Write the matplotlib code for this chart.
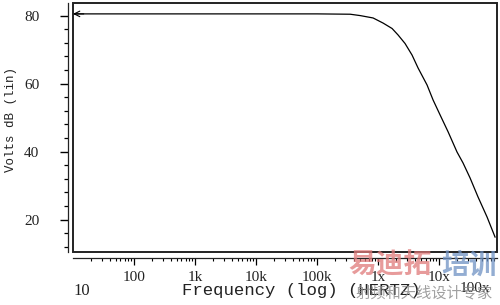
import matplotlib
matplotlib.use("Agg")
import matplotlib.pyplot as plt
import matplotlib.ticker as ticker
from matplotlib.patches import Rectangle
import numpy as np

# response curve
freq = [10, 1e5, 3.5e5, 5.1e5, 8.3e5, 1.21e6, 1.7e6, 2.13e6, 2.77e6, 3.61e6, 4.53e6,
        6.36e6, 7.98e6, 1.04e7, 1.41e7, 1.97e7, 2.47e7, 3.22e7, 4.35e7, 6.12e7, 8.28e7]
volts_db = [80.5, 80.5, 80.4, 80.0, 79.3, 77.8, 76.2, 74.3, 71.8, 68.4, 64.6,
            59.6, 55.2, 50.8, 45.8, 39.9, 36.7, 32.3, 26.7, 20.8, 14.9]

x_ticks = [100, 1e3, 1e4, 1e5, 1e6, 1e7]
x_tick_labels = ["100", "1k", "10k", "100k", "1x", "10x"]
y_ticks = [20, 40, 60, 80]

SERIF = "Liberation Serif"
MONO = "Liberation Mono"

fig = plt.figure(figsize=(5, 3.05), dpi=100)
ax = fig.add_axes([73 / 500, 53 / 305, 424 / 500, 249 / 305])

ax.plot(freq, volts_db, color="black", linewidth=0.9)
# open arrow head at the left end of the trace
ax.annotate("", xy=(freq[0], volts_db[0]), xytext=(freq[0] * 1.5, volts_db[0]),
            arrowprops=dict(arrowstyle="->", color="black", lw=0.8, mutation_scale=10,
                            shrinkA=0, shrinkB=0))

ax.set_xscale("log")
ax.set_xlim(10, 10 ** 7.95)
ax.set_ylim(10.5, 83.7)

# plot frame, the tick axes sit a few pixels outside it
ax.add_patch(Rectangle((0, 0), 1, 1, transform=ax.transAxes, fill=False,
                       edgecolor="#222222", linewidth=1.4, clip_on=False, zorder=5))
ax.spines["top"].set_visible(False)
ax.spines["right"].set_visible(False)
ax.spines["left"].set_position(("outward", 3.8))
ax.spines["bottom"].set_position(("outward", 4.5))
for s in ["left", "bottom"]:
    ax.spines[s].set_linewidth(0.9)
    ax.spines[s].set_color("#222222")

ax.set_xticks(x_ticks)
ax.set_xticklabels(x_tick_labels, fontfamily=SERIF, fontsize=11, color="#222222")
ax.xaxis.set_minor_locator(ticker.LogLocator(base=10, subs=np.arange(2, 10), numticks=20))
ax.xaxis.set_minor_formatter(ticker.NullFormatter())
ax.tick_params(axis="x", which="major", direction="out", length=5, width=0.9, pad=4)
ax.tick_params(axis="x", which="minor", direction="out", length=2, width=0.8)

ax.set_yticks(y_ticks)
ax.set_yticklabels([str(v) for v in y_ticks], fontfamily=SERIF, fontsize=11, color="#222222")
ax.yaxis.set_minor_locator(ticker.MultipleLocator(4))
ax.tick_params(axis="y", which="major", direction="out", length=5.5, width=1.0, pad=15)
ax.tick_params(axis="y", which="minor", direction="out", length=3, width=0.9)

# end labels sit lower than the rest
ax.text(0.0, -0.155, "10", transform=ax.transAxes, ha="left", va="center",
        fontfamily=SERIF, fontsize=12, color="#222222")
ax.text(0.985, -0.145, "100x", transform=ax.transAxes, ha="right", va="center",
        fontfamily=SERIF, fontsize=11, color="#222222")

fig.text(182 / 500, 1 - 290 / 305, "Frequency (log) (HERTZ)", ha="left", va="center",
         fontfamily=MONO, fontsize=12.5, color="#222222")
fig.text(11 / 500, 1 - 120 / 305, "Volts dB (lin)", ha="center", va="center", rotation=90,
         fontfamily=MONO, fontsize=9, color="#222222")

# watermark
fig.text(348 / 500, 1 - 266 / 305, "易迪拓", ha="left", va="center", fontfamily="Noto Sans CJK SC",
         fontsize=20, fontweight="bold", color="#e07a7a", alpha=0.75)
fig.text(497 / 500, 1 - 266 / 305, "培训", ha="right", va="center", fontfamily="Noto Sans CJK SC",
         fontsize=20, fontweight="bold", color="#6f92c4", alpha=0.75)
fig.text(356 / 500, 1 - 293 / 305, "射频和天线设计专家", ha="left", va="center",
         fontfamily="Noto Sans CJK SC", fontsize=11, color="#888888", alpha=0.8)

fig.savefig("out.png", dpi=100)
